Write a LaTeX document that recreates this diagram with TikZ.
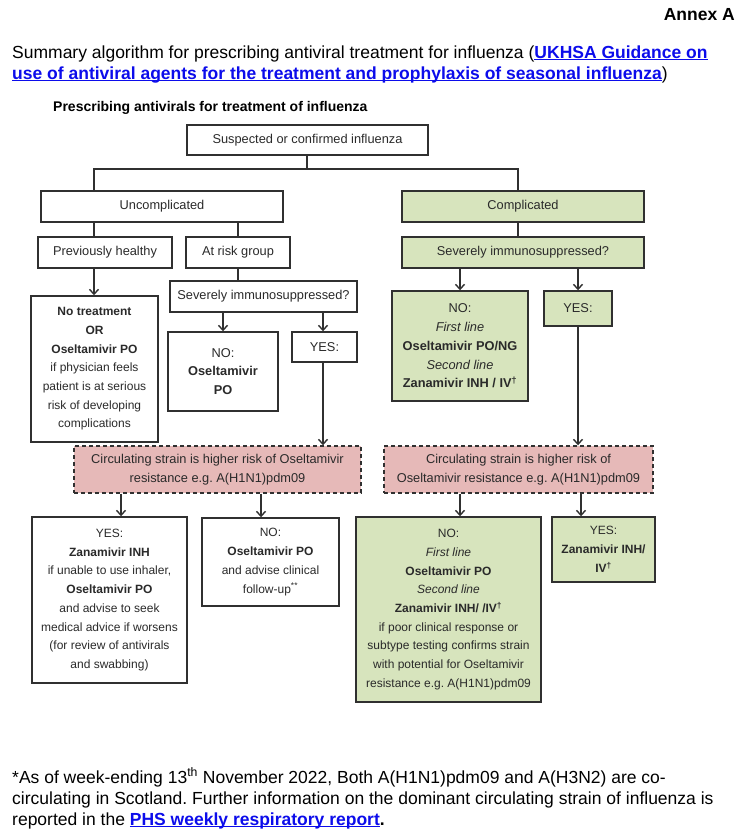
\documentclass[tikz,border=0pt]{standalone}
\usepackage{fontspec}
\setmainfont{Liberation Sans}
\usetikzlibrary{arrows.meta}
\frenchspacing
\definecolor{gfill}{HTML}{D7E4BD}
\definecolor{pfill}{HTML}{E6B9B8}
\definecolor{lnk}{RGB}{12,12,235}
\definecolor{ink}{HTML}{2A2A2A}
\definecolor{edge}{HTML}{303030}
\newcommand\lnkt[1]{{\color{lnk}\bfseries\underline{\smash{#1}}}}
\tikzset{
  box/.style={draw=edge, line width=1.4bp, fill=white, inner sep=0pt, align=center, text=ink,
    font=\fontsize{12.8bp}{18.7bp}\selectfont},
  sbox/.style={box, font=\fontsize{12bp}{18.7bp}\selectfont},
  gbox/.style={box, fill=gfill},
  sgbox/.style={sbox, fill=gfill},
  pbox/.style={box, fill=pfill, dash pattern=on 4bp off 3bp},
  conn/.style={draw=edge, line width=1.4bp},
  arr/.style={conn, -{Straight Barb[length=5bp,width=9bp,line width=1.4bp]}},
  bigtext/.style={anchor=base west, inner sep=0pt, font=\fontsize{17.5bp}{21bp}\selectfont},
}
\begin{document}
\begin{tikzpicture}[x=1bp,y=-1bp]
\fill[white] (0,0) rectangle (743,833);
\useasboundingbox (0,0) rectangle (743,833);

% header
\node[anchor=base east, inner sep=0pt, font=\fontsize{17.5bp}{21bp}\selectfont\bfseries] (annex) at (735,20) {Annex A};
\node[bigtext] (t1) at (12,58) {Summary algorithm for prescribing antiviral treatment for influenza (\lnkt{UKHSA Guidance on}};
\node[bigtext] (t2) at (12,79) {\lnkt{use of antiviral agents for the treatment and prophylaxis of seasonal influenza})};
\node[anchor=base west, inner sep=0pt, font=\fontsize{14bp}{16bp}\selectfont\bfseries] (head) at (53,111) {Prescribing antivirals for treatment of influenza};

% boxes
\node[box, minimum width=241bp, minimum height=30bp] (top) at (307.5,140) {Suspected or confirmed influenza};
\node[box, minimum width=242bp, minimum height=31bp] (unc) at (162,206.5) {Uncomplicated};
\node[gbox, minimum width=242bp, minimum height=31bp] (comp) at (523,206.5) {Complicated};
\node[box, minimum width=134bp, minimum height=31bp] (ph) at (105,252.5) {Previously healthy};
\node[box, minimum width=104bp, minimum height=31bp] (arg) at (238,252.5) {At risk group};
\node[gbox, minimum width=242bp, minimum height=31bp] (sevR) at (523,252.5) {Severely immunosuppressed?};
\node[sbox, minimum width=127bp, minimum height=146bp] (notreat) at (94.5,369)
  {\textbf{No treatment}\\\textbf{OR}\\\textbf{Oseltamivir PO}\\if physician feels\\patient is at serious\\risk of developing\\complications};
\node[box, minimum width=187bp, minimum height=31bp] (sevL) at (263.5,296.5) {Severely immunosuppressed?};
\node[box, minimum width=110bp, minimum height=79bp] (noL) at (223,371.5) {NO:\\\textbf{Oseltamivir}\\\textbf{PO}};
\node[box, minimum width=65bp, minimum height=30bp] (yesL) at (324.5,347) {YES:};
\node[gbox, minimum width=136bp, minimum height=110bp] (noR) at (460,346)
  {NO:\\\textit{First line}\\\textbf{Oseltamivir PO/NG}\\\textit{Second line}\\\textbf{Zanamivir INH / IV\textsuperscript{†}}};
\node[gbox, minimum width=68bp, minimum height=35bp] (yesR) at (578,308.5) {YES:};
\node[pbox, minimum width=287bp, minimum height=47bp] (pinkL) at (217.5,469.5)
  {Circulating strain is higher risk of Oseltamivir\\resistance e.g. A(H1N1)pdm09};
\node[pbox, minimum width=269bp, minimum height=47bp] (pinkR) at (518.5,469.5)
  {Circulating strain is higher risk of\\Oseltamivir resistance e.g. A(H1N1)pdm09};
\node[sbox, minimum width=155bp, minimum height=166bp] (yesB) at (109.5,600)
  {YES:\\\textbf{Zanamivir INH}\\if unable to use inhaler,\\\textbf{Oseltamivir PO}\\and advise to seek\\medical advice if worsens\\(for review of antivirals\\and swabbing)};
\node[sbox, minimum width=137bp, minimum height=88bp] (noB) at (270.5,562)
  {NO:\\\textbf{Oseltamivir PO}\\and advise clinical\\follow-up\textsuperscript{**}};
\node[sgbox, minimum width=185bp, minimum height=185bp] (greenNo) at (448.5,609.5)
  {NO:\\\textit{First line}\\\textbf{Oseltamivir PO}\\\textit{Second line}\\\textbf{Zanamivir INH/ /IV\textsuperscript{†}}\\if poor clinical response or\\subtype testing confirms strain\\with potential for Oseltamivir\\resistance e.g. A(H1N1)pdm09};
\node[sgbox, minimum width=103bp, minimum height=65bp] (greenYes) at (603.5,549.5)
  {YES:\\\textbf{Zanamivir INH/}\\\textbf{IV\textsuperscript{†}}};

% connector positions
\coordinate (xa) at (94,169);
\coordinate (xb) at (518,169);
\coordinate (xc) at (323,0);
\coordinate (xd) at (121,0);
\coordinate (xe) at (261,0);
\coordinate (xf) at (460,0);
\coordinate (xg) at (581,0);
\coordinate (xt) at (307,0);

% connectors
\draw[conn] (top.south -| xt) -- (xt |- xa);
\draw[conn] (unc.north -| xa) -- (xa) -- (xb) -- (comp.north -| xb);
\draw[conn] (unc.south -| xa) -- (ph.north -| xa);
\draw[conn] (unc.south -| arg.north) -- (arg.north);
\draw[conn] (comp.south -| xb) -- (sevR.north -| xb);
\draw[arr] (ph.south -| xa) -- (notreat.north -| xa);
\draw[conn] (arg.south) -- (sevL.north -| arg.south);
\draw[arr] (sevL.south -| noL.north) -- (noL.north);
\draw[arr] (sevL.south -| xc) -- (yesL.north -| xc);
\draw[arr] (yesL.south -| xc) -- (pinkL.north -| xc);
\draw[arr] (sevR.south -| noR.north) -- (noR.north);
\draw[arr] (sevR.south -| yesR.north) -- (yesR.north);
\draw[arr] (yesR.south) -- (pinkR.north -| yesR.south);
\draw[arr] (pinkL.south -| xd) -- (yesB.north -| xd);
\draw[arr] (pinkL.south -| xe) -- (noB.north -| xe);
\draw[arr] (pinkR.south -| xf) -- (greenNo.north -| xf);
\draw[arr] (pinkR.south -| xg) -- (greenYes.north -| xg);

% footer
\node[bigtext] (f1) at (12,783) {*As of week-ending 13\textsuperscript{th} November 2022, Both A(H1N1)pdm09 and A(H3N2) are co-};
\node[bigtext] (f2) at (12,804) {circulating in Scotland. Further information on the dominant circulating strain of influenza is};
\node[bigtext] (f3) at (12,825) {reported in the \lnkt{PHS weekly respiratory report}\textbf{.}};
\end{tikzpicture}
\end{document}
